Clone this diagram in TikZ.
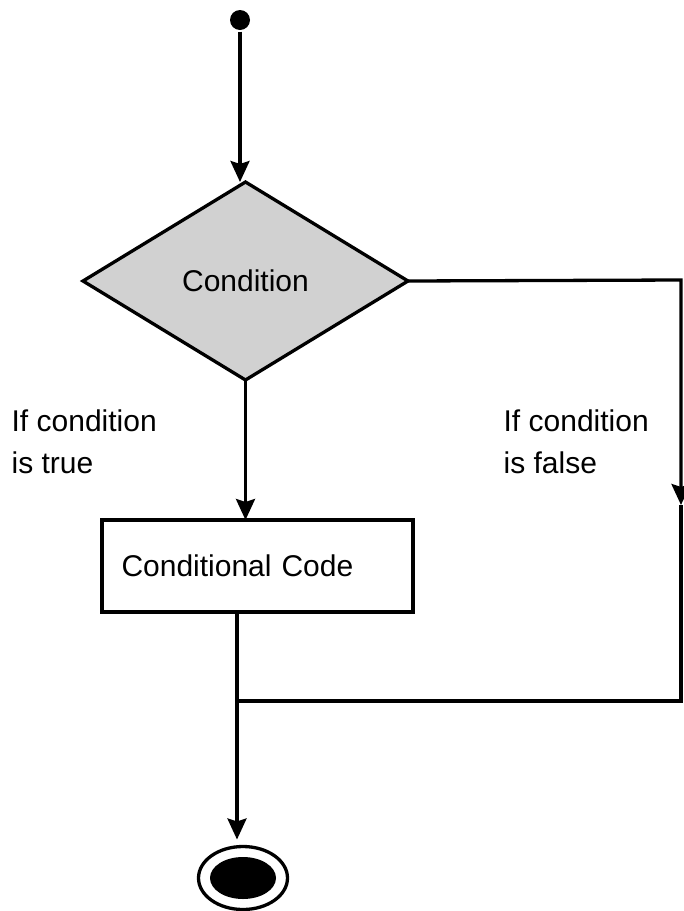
\documentclass[tikz,border=0pt]{standalone}
\usepackage{fontspec}
\setmainfont{Liberation Sans}
\usetikzlibrary{arrows.meta,shapes.geometric}
\newcommand\flowfont{\fontsize{30}{42}\selectfont}

\begin{document}
\begin{tikzpicture}[
    x=1pt, y=1pt,
    line width=3.3pt,
    font=\flowfont,
    arrowtip/.style={
      -{Stealth[length=21pt,width=19pt,inset=3pt]}
    },
    decision/.style={
      diamond, draw, fill=black!18, inner sep=0pt, outer sep=0pt,
      minimum width=325pt, minimum height=198pt
    },
    codebox/.style={
      rectangle, draw, fill=white, outer sep=0pt,
      minimum height=92pt, text width=272pt, inner xsep=19.5pt, align=left
    },
    guard/.style={
      align=left, inner sep=0pt, anchor=north west
    }
  ]
    \useasboundingbox (0,0) rectangle (684,-911);

    \node[circle, fill, inner sep=0pt, minimum size=20pt] (Start) at (240,-20) {};

    \node[decision] (Cond) at (245.5,-281) {Condition};

    \node[codebox] (Code) at (257.5,-566) {Conditional Code};

    \node[ellipse, draw, minimum width=89pt, minimum height=63pt, outer sep=0pt] (Stop) at (243,-878) {};
    \node[ellipse, fill, minimum width=66pt, minimum height=42pt] (StopCore) at (Stop.center) {};

    \node[guard] (TrueLbl) at (10,-408) {If condition\\is true};
    \node[guard] (FalseLbl) at (502,-408) {If condition\\is false};

    \coordinate (Join) at (237,-701);
    \coordinate (FalseTop) at (681,-280);
    \coordinate (FalseMid) at (681,-505);
    \coordinate (FalseBot) at (681,-701);

    % true branch
    \draw[arrowtip] (Start.south) -- (Start.south |- Cond.north);
    \draw[arrowtip] (Cond.south) -- (Cond.south |- Code.north);
    \draw[arrowtip] (Code.south -| Join) -- ([yshift=7pt]Join |- Stop.north);

    % false branch
    \draw[arrowtip] (Cond.east) -- (FalseTop) -- (FalseMid);
    \draw (FalseMid) -- (FalseBot) -- (Join);
  \end{tikzpicture}
\end{document}
